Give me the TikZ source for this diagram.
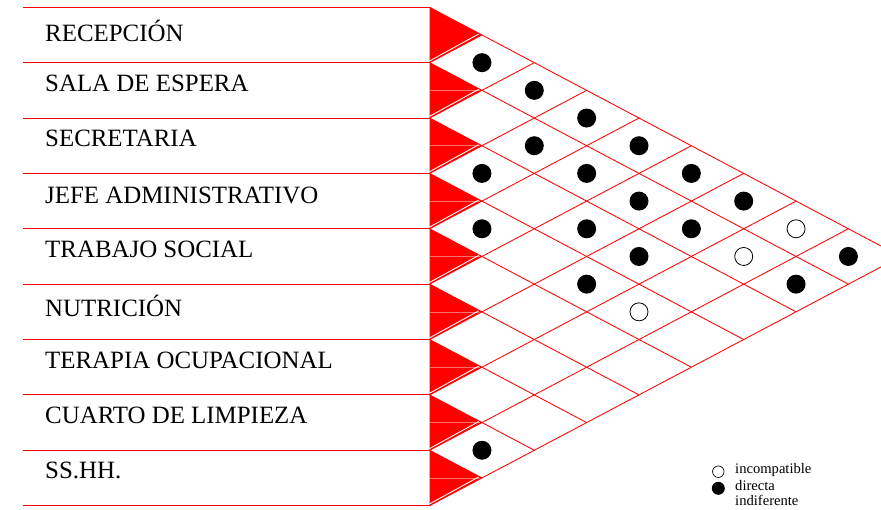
\documentclass[tikz,border=0pt]{standalone}
\usepackage{fontspec}
\setmainfont{Liberation Serif}
\begin{document}
\begin{tikzpicture}[x=1pt,y=-1pt,
  gridline/.style={draw=red, line width=0.85pt},
  rowline/.style={draw=red, line width=0.9pt},
  midline/.style={draw={rgb,255:red,255;green,110;blue,110}, line width=0.5pt},
  gapline/.style={draw=white, line width=0.9pt},
  lbl/.style={anchor=base west, inner sep=0pt, font=\fontsize{24.9}{29}\selectfont},
  leg/.style={anchor=base west, inner sep=0pt, font=\fontsize{14.6}{17}\selectfont},
  fdot/.style={circle, fill=black, minimum size=19pt, inner sep=0pt},
  odot/.style={circle, draw=black, line width=0.8pt, fill=white, minimum size=18pt, inner sep=0pt}]
\useasboundingbox (0,0) rectangle (881,510);
\clip (0,0) rectangle (881,510);
\def\xo{429.6}\def\yo{7.3}\def\dx{52.35}\def\dy{27.685}
% row lines
\foreach \k in {0,...,9}
  \draw[rowline] (23,{\yo+2*\k*\dy}) -- (\xo,{\yo+2*\k*\dy});
% red half-diamonds
\foreach \i in {1,...,9}{
  \fill[red] (\xo,{\yo+2*(\i-1)*\dy}) -- ({\xo+\dx},{\yo+(2*\i-1)*\dy}) -- (\xo,{\yo+2*\i*\dy}) -- cycle;
}
\foreach \i in {2,...,9}
  \draw[midline] (\xo,{\yo+(2*\i-1)*\dy}) -- ({\xo+\dx-2},{\yo+(2*\i-1)*\dy});
\foreach \i in {1,...,9}
  \draw[gapline] (\xo,{\yo+2*\i*\dy-1.7}) -- ({\xo+\dx-2},{\yo+(2*\i-1)*\dy-1.7});
% grid
\foreach \k in {0,...,8}
  \draw[gridline] (\xo,{\yo+2*\k*\dy}) -- ({\xo+(9-\k)*\dx},{\yo+(9+\k)*\dy});
\foreach \k in {1,...,9}
  \draw[gridline] (\xo,{\yo+2*\k*\dy}) -- ({\xo+\k*\dx},{\yo+\k*\dy});
% labels
\node[lbl] (r1) at (45,41.7) {RECEPCIÓN};
\node[lbl] (r2) at (45,91.7) {SALA DE ESPERA};
\node[lbl] (r3) at (45,146.7) {SECRETARIA};
\node[lbl] (r4) at (45,203.3) {JEFE ADMINISTRATIVO};
\node[lbl] (r5) at (45,257.3) {TRABAJO SOCIAL};
\node[lbl] (r6) at (45,316.7) {NUTRICIÓN};
\node[lbl] (r7) at (45,368.3) {TERAPIA OCUPACIONAL};
\node[lbl] (r8) at (45,423.3) {CUARTO DE LIMPIEZA};
\node[lbl] (r9) at (45,478.3) {SS.HH.};
% filled dots (directa)
\foreach \i/\j [count=\n] in {1/2,1/3,1/4,2/4,1/5,3/4,2/5,1/6,2/6,1/7,4/5,3/6,2/7,3/7,1/9,4/7,2/9,8/9}
  \node[fdot] (f\n) at ({\xo+(\j-\i)*\dx},{\yo+(\i+\j-1)*\dy}) {};
% open dots (incompatible)
\foreach \i/\j [count=\n] in {1/8,2/8,4/8}
  \node[odot] (o\n) at ({\xo+(\j-\i)*\dx},{\yo+(\i+\j-1)*\dy}) {};
% legend
\node[odot, minimum size=11.5pt, line width=0.7pt] (lo) at (718.3,471.7) {};
\node[fdot, minimum size=13pt] (lf) at (718.3,488.3) {};
\node[leg] (l1) at (735,473.3) {incompatible};
\node[leg] (l2) at (735,490) {directa};
\node[leg] (l3) at (735,505.7) {indiferente};
\end{tikzpicture}
\end{document}
